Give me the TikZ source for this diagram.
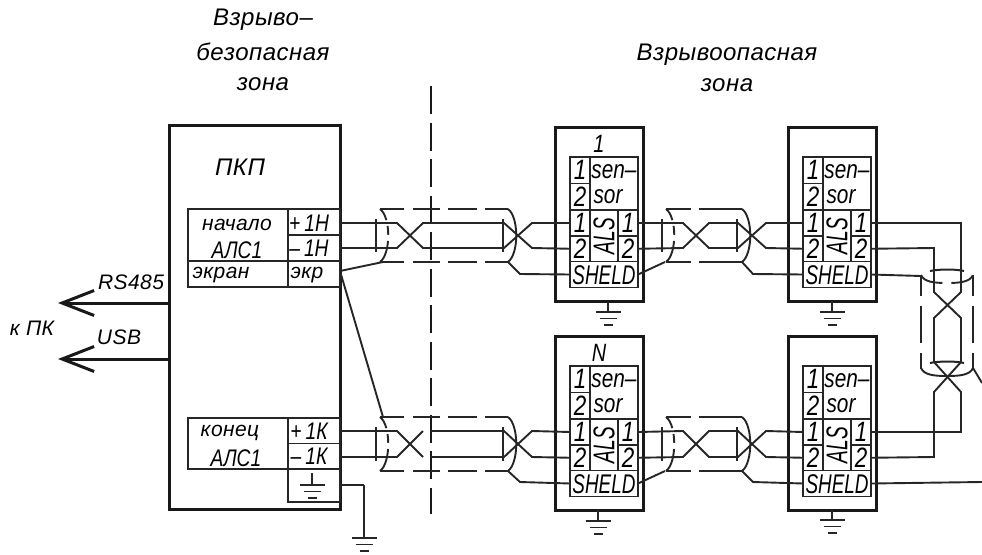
\documentclass[tikz,border=0pt]{standalone}
\usepackage{fontspec}
\setmainfont{Liberation Sans}
\newfontfamily\gostwide[LetterSpace=2]{Liberation Sans}
\newfontfamily\gostreg[LetterSpace=2]{Liberation Sans}
\newfontfamily\gostnar[FakeStretch=0.64]{Liberation Sans}
\newfontfamily\gostsh[FakeStretch=0.7]{Liberation Sans}
\newfontfamily\gostmid[FakeStretch=0.8]{Liberation Sans}
\usetikzlibrary{arrows.meta}
\tikzset{
  heavy/.style={draw=black!90,line width=3pt},
  wire/.style={draw=black!85,line width=1.9pt,line join=miter},
  capline/.style={draw=black!85,line width=2pt},
  shieldl/.style={draw=black!85,line width=1.9pt},
  cell/.style={draw=black!85,line width=1.5pt,inner sep=0pt,outer sep=0pt,anchor=north west},
  boxn/.style={draw=black!90,line width=3pt,inner sep=0pt,outer sep=0pt,anchor=north west},
  title/.style={font=\fontsize{24}{26}\selectfont\gostwide\itshape,inner sep=0pt},
  lab/.style={font=\fontsize{21}{23}\selectfont\gostreg\itshape,inner sep=0pt},
  tall/.style={font=\fontsize{24}{26}\selectfont\gostmid\itshape,inner sep=0pt},
  num/.style={font=\fontsize{28}{30}\selectfont\gostmid\itshape},
  capt/.style={font=\fontsize{25}{27}\selectfont\gostmid\itshape,inner sep=0pt},
  sens/.style={font=\fontsize{26}{28}\selectfont\gostmid\itshape,inner sep=0pt},
  narrow/.style={font=\fontsize{30}{32}\selectfont\gostnar\itshape,inner sep=0pt},
  shtext/.style={font=\fontsize{27}{29}\selectfont\gostsh\itshape,inner sep=0pt},
  barb/.style={-{Straight Barb[length=32pt,width=25pt,line width=3pt]}},
}
\newcommand\gndsym[3]{%
  \draw[wire] (#1) -- (#2,#3);
  \draw[wire] (#2-12.5,#3) -- (#2+12.5,#3);
  \draw[wire] (#2-8.5,#3+6.5) -- (#2+8.5,#3+6.5);
  \draw[wire] (#2-4.5,#3+13) -- (#2+4.5,#3+13);
}
\newcommand\modul[4]{%
  \node[boxn,minimum width=88pt,minimum height=174pt] (#1) at (#2,#3) {};
  \node[capt] (#1-cap) at (#2+44,#3+17) {#4};
  \node[cell,minimum width=68pt,minimum height=53pt] (#1-top) at (#2+15,#3+30) {};
  \node[cell,minimum width=20pt,minimum height=26.5pt,num] (#1-t1) at (#2+15,#3+30) {1};
  \node[cell,minimum width=20pt,minimum height=26.5pt,num] (#1-t2) at (#2+15,#3+56.5) {2};
  \node[sens] (#1-sen) at (#2+59,#3+45) {sen–};
  \node[sens] (#1-sor) at (#2+53,#3+70) {sor};
  \node[cell,minimum width=20pt,minimum height=26pt,num] (#1-i1) at (#2+15,#3+83) {1};
  \node[cell,minimum width=20pt,minimum height=25.5pt,num] (#1-i2) at (#2+15,#3+109) {2};
  \node[cell,minimum width=28pt,minimum height=51.5pt] (#1-mid) at (#2+35,#3+83) {};
  \node[narrow,rotate=90] (#1-als) at (#2+49,#3+109) {ALS};
  \node[cell,minimum width=20pt,minimum height=26pt,num] (#1-o1) at (#2+63,#3+83) {1};
  \node[cell,minimum width=20pt,minimum height=25.5pt,num] (#1-o2) at (#2+63,#3+109) {2};
  \node[cell,minimum width=68pt,minimum height=26pt] (#1-sh) at (#2+15,#3+134.5) {};
  \node[shtext] (#1-shl) at (#2+49,#3+148) {SHELD};
}
\def\jn{--}
\newcommand\cable[9]{%
  \draw[wire] (#1) -- (#5+21,#7) -- (#5+47,#8) \jn (#5+55,#8) -- (#6+1,#8) -- (#6+29,#7) -- (#3);
  \draw[wire] (#2) -- (#5+21,#8) -- (#5+47,#7) \jn (#5+55,#7) -- (#6+1,#7) -- (#6+29,#8) -- (#4);
  \draw[capline] (#5,#7-4) -- (#5,#8+4);
  \draw[capline] (#6,#7-4) -- (#6,#8+4);
  \draw[shieldl,dash pattern=#9] (#5+4,#7-14) -- (#6+5,#7-14);
  \draw[shieldl,dash pattern=#9] (#5+4,#8+14) -- (#6+5,#8+14);
  \draw[shieldl,dash pattern=on 13pt off 6pt on 9pt off 6pt on 30pt] (#5+4,#7-14) .. controls (#5+15,#7-6) and (#5+15,#8+6) .. (#5+4,#8+14);
  \draw[shieldl] (#6+5,#7-14) .. controls (#6+16,#7-6) and (#6+16,#8+6) .. (#6+5,#8+14);
}
\begin{document}
\begin{tikzpicture}[x=1pt,y=-1pt]
\useasboundingbox (0,0) rectangle (982,554);
% titles
\node[title] (t1) at (263,20) {Взрыво–};
\node[title] (t2) at (263,52) {безопасная};
\node[title] (t3) at (263,84) {зона};
\node[title] (t4) at (727,55) {Взрывоопасная};
\node[title] (t5) at (727,85) {зона};
% zone border
\coordinate (zt) at (431,86);
\coordinate (zb) at (431,514);
\draw[line width=2.6pt,draw=black!90,dash pattern=on 28pt off 8.5pt] (zt) -- (zb);
% PKP
\node[boxn,minimum width=171pt,minimum height=384pt] (pkp) at (169,125) {};
\node[title] (pkpl) at (240,167) {ПКП};
% table begin
\node[cell,minimum width=100pt,minimum height=52pt] (nach) at (188,209) {};
\node[cell,minimum width=52pt,minimum height=26pt] (pH) at (288,209) {};
\node[cell,minimum width=52pt,minimum height=26pt] (mH) at (288,235) {};
\node[cell,minimum width=100pt,minimum height=26pt] (ekrl) at (188,261) {};
\node[cell,minimum width=52pt,minimum height=26pt] (ekr) at (288,261) {};
\node[lab] (l1) at (237,225) {начало};
\node[tall] (l2) at (237,250) {АЛС1};
\node[lab] (l3) at (221,275) {экран};
\node[lab] (l4) at (307,275) {экр};
\node[tall] (l5) at (309,223) {+\,1Н};
\node[tall] (l6) at (309,248) {–\,1Н};
% table end
\node[cell,minimum width=100pt,minimum height=51pt] (kon) at (188,418) {};
\node[cell,minimum width=52pt,minimum height=25.5pt] (pK) at (288,418) {};
\node[cell,minimum width=52pt,minimum height=25.5pt] (mK) at (288,443.5) {};
\node[cell,minimum width=52pt,minimum height=33pt] (gc) at (288,469) {};
\node[lab] (l7) at (230,433) {конец};
\node[tall] (l8) at (236,458) {АЛС1};
\node[tall] (l9) at (309,431) {+\,1К};
\node[tall] (l10) at (309,456) {–\,1К};
\coordinate (gi) at (312,473);
\gndsym{gi}{312}{485}
% modules
\modul{ma}{555}{127}{1}
\modul{mb}{788}{127}{}
\modul{mc}{555}{336}{N}
\modul{md}{788}{336}{}
% terminals on PKP edge
\coordinate (p1) at (340,223);
\coordinate (p2) at (340,248);
\coordinate (p3) at (340,271);
\coordinate (p4) at (340,431);
\coordinate (p5) at (340,457);
\coordinate (p6) at (340,485);
% cables upper row
\cable{p1}{p2}{ma-i1.west}{ma-i2.west}{376}{503}{223}{248}{on 24pt off 9pt on 27pt off 8pt on 29pt off 8pt on 24pt off 50pt}
\cable{ma-o1.east}{ma-o2.east}{mb-i1.west}{mb-i2.west}{662}{737}{223}{248}{on 25pt off 8pt on 45pt off 50pt}
% cables lower row
\def\jn{}
\cable{p4}{p5}{mc-i1.west}{mc-i2.west}{376}{503}{431}{457}{on 24pt off 9pt on 27pt off 8pt on 29pt off 8pt on 24pt off 50pt}
\def\jn{--}
\cable{mc-o1.east}{mc-o2.east}{md-i1.west}{md-i2.west}{662}{737}{431}{457}{on 25pt off 8pt on 45pt off 50pt}
% shield links
\coordinate (s1) at (383,262);
\coordinate (s2) at (383,417);
\draw[wire] (p3) -- (s1);
\draw[wire] (p3) -- (s2);
\draw[wire] (508,262) -- (520,274) -- (ma-sh.west);
\draw[wire] (508,471) -- (520,482) -- (mc-sh.west);
\draw[wire] (ma-sh.east) -- (665,262);
\draw[wire] (mc-sh.east) -- (665,471);
\draw[wire] (742,262) -- (753,274) -- (mb-sh.west);
\draw[wire] (742,471) -- (753,482) -- (md-sh.west);
% vertical cable
\coordinate (sv) at (921,276);
\coordinate (sve) at (982,482);
\coordinate (lead) at (982,383);
\draw[wire] (mb-sh.east) -- (sv);
\draw[wire] (md-sh.east) -- (sve);
\draw[wire] (mb-o1.east) -- (961,223) -- (961,292) -- (934,318) -- (934,362) -- (961,392) -- (961,432) -- (md-o1.east);
\draw[wire] (mb-o2.east) -- (934,248) -- (934,292) -- (961,318) -- (961,362) -- (934,392) -- (934,457) -- (md-o2.east);
\draw[capline] (930,271) .. controls (940,269) and (955,269) .. (964,271);
\draw[capline] (930,363) .. controls (940,361) and (955,361) .. (964,363);
\draw[shieldl,dash pattern=on 21pt off 10pt on 37pt off 10pt on 16pt off 50pt] (921,275) -- (921,369);
\draw[shieldl,dash pattern=on 21pt off 10pt on 37pt off 10pt on 16pt off 50pt] (973,275) -- (973,369);
\draw[shieldl,dash pattern=on 24pt off 9pt on 24pt off 50pt] (921,275) .. controls (924,282) and (934,283) .. (947,283) .. controls (960,283) and (970,282) .. (973,275);
\draw[shieldl] (921,368) .. controls (924,375) and (934,376) .. (947,376) .. controls (960,376) and (970,375) .. (973,368);
\draw[wire] (973,368) -- (lead);
% grounds
\coordinate (g0) at (364,485);
\draw[wire] (p6) -- (g0);
\gndsym{g0}{364}{538}
\coordinate (ga) at (608,302);
\coordinate (gb) at (832,301);
\coordinate (gc2) at (598,510);
\coordinate (gd) at (832,510);
\gndsym{ga}{608}{312}
\gndsym{gb}{832}{312}
\gndsym{gc2}{598}{521}
\gndsym{gd}{832}{520}
% PC links
\coordinate (ra) at (169,303);
\coordinate (ua) at (169,359);
\coordinate (rt) at (58,303);
\coordinate (ut) at (58,359);
\draw[heavy,barb] (ra) -- (rt);
\draw[heavy,barb] (ua) -- (ut);
\node[lab] (rs) at (131,282) {RS485};
\node[lab] (usb) at (119,337) {USB};
\node[lab] (pc) at (32,328) {к ПК};
\end{tikzpicture}
\end{document}
